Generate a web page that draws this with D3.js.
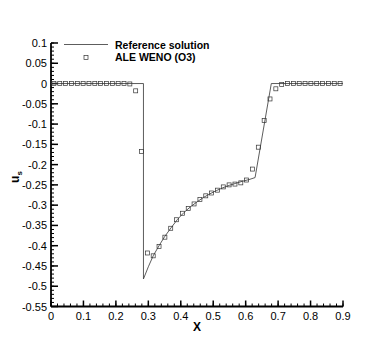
<!DOCTYPE html>
<html><head><meta charset="utf-8">
<script src="https://cdn.jsdelivr.net/npm/d3@7"></script>
<style>body{margin:0;background:#fff}svg{display:block}text{font-family:"Liberation Sans",Arial,sans-serif}</style>
</head><body>
<svg id="c" width="390" height="347"></svg>
<script>
const refX = [0, 0.285, 0.285, 0.30, 0.315, 0.333, 0.35, 0.37, 0.39, 0.41, 0.43, 0.45, 0.47, 0.49, 0.51, 0.53, 0.55, 0.57, 0.59, 0.61, 0.629, 0.679, 0.9];
const refY = [0, 0, -0.482, -0.452, -0.425, -0.400, -0.378, -0.356, -0.335, -0.318, -0.304, -0.292, -0.281, -0.272, -0.264, -0.257, -0.251, -0.246, -0.241, -0.237, -0.232, 0, 0];
const weno = [0,0,0,0,0,0,0,0,0,0,0,0,0,-0.001,-0.018,-0.168,-0.418,-0.425,-0.402,-0.379,-0.357,-0.336,-0.320,-0.308,-0.297,-0.286,-0.277,-0.270,-0.263,-0.255,-0.250,-0.248,-0.245,-0.238,-0.211,-0.157,-0.091,-0.038,-0.013,-0.002,0,0,0,0,0,0,0,0,0,0];
const wenoX = weno.map((_, i) => +(0.009 + 0.018 * i).toFixed(3));
const xTicks = [0,0.1,0.2,0.3,0.4,0.5,0.6,0.7,0.8,0.9];
const yTicks = [0.1,0.05,0,-0.05,-0.1,-0.15,-0.2,-0.25,-0.3,-0.35,-0.4,-0.45,-0.5,-0.55];
const legendLabels = ["Reference solution", "ALE WENO (O3)"];

const svg = d3.select("#c");
const x = d3.scaleLinear().domain([0, 0.9]).range([51, 343]);
const y = d3.scaleLinear().domain([-0.55, 0.1]).range([306.5, 43]);

const xMinor = d3.range(0, 0.9001, 0.02).map(v => +v.toFixed(3));
const yMinor = d3.range(-0.55, 0.1001, 0.01).map(v => +v.toFixed(3));
const g = svg.append("g");
g.selectAll(".xm").data(xMinor).join("line")
  .attr("x1", d => x(d)).attr("x2", d => x(d)).attr("y1", y(-0.55)).attr("y2", y(-0.55) - 3)
  .attr("stroke", "#000").attr("stroke-width", 1);
g.selectAll(".ym").data(yMinor).join("line")
  .attr("y1", d => y(d)).attr("y2", d => y(d)).attr("x1", x(0)).attr("x2", x(0) + 3)
  .attr("stroke", "#000").attr("stroke-width", 1);
g.selectAll(".xM").data(xTicks).join("line")
  .attr("x1", d => x(d)).attr("x2", d => x(d)).attr("y1", y(-0.55)).attr("y2", y(-0.55) - 6)
  .attr("stroke", "#000").attr("stroke-width", 1.5);
g.selectAll(".yM").data(yTicks).join("line")
  .attr("y1", d => y(d)).attr("y2", d => y(d)).attr("x1", x(0)).attr("x2", x(0) + 7)
  .attr("stroke", "#000").attr("stroke-width", 1.5);
g.append("line").attr("x1", x(0)).attr("x2", x(0.9)).attr("y1", y(-0.55)).attr("y2", y(-0.55)).attr("stroke", "#000").attr("stroke-width", 1.8);
g.append("line").attr("x1", x(0)).attr("x2", x(0)).attr("y1", y(-0.55)).attr("y2", y(0.1)).attr("stroke", "#000").attr("stroke-width", 1.8);

g.selectAll(".xl").data(xTicks).join("text")
  .attr("x", d => x(d)).attr("y", y(-0.55) + 13).attr("text-anchor", "middle")
  .attr("font-size", 11).text(d => d3.format("")(d));
g.selectAll(".yl").data(yTicks).join("text")
  .attr("x", x(0) - 4).attr("y", d => y(d) + 4).attr("text-anchor", "end")
  .attr("font-size", 11).text(d => String(d).replace("−", "-"));

svg.append("text").attr("x", 197).attr("y", 331).attr("text-anchor", "middle")
  .attr("font-size", 12).attr("font-weight", "bold").text("X");
const yt = svg.append("text").attr("transform", "translate(19,177) rotate(-90)")
  .attr("text-anchor", "middle").attr("font-size", 12).attr("font-weight", "bold");
yt.append("tspan").text("u");
yt.append("tspan").attr("font-size", 8).attr("dy", 3).text("s");

const pts = refX.map((v, i) => [v, refY[i]]);
svg.append("path").datum(pts)
  .attr("d", d3.line().x(d => x(d[0])).y(d => y(d[1])))
  .attr("fill", "none").attr("stroke", "#333").attr("stroke-width", 0.8);

svg.selectAll(".mk").data(wenoX.map((v, i) => [v, weno[i]])).join("rect")
  .attr("x", d => x(d[0]) - 2).attr("y", d => y(d[1]) - 2)
  .attr("width", 4).attr("height", 4)
  .attr("fill", "none").attr("stroke", "#333").attr("stroke-width", 0.7);

svg.append("line").attr("x1", 64).attr("x2", 108).attr("y1", 44.5).attr("y2", 44.5).attr("stroke", "#333").attr("stroke-width", 0.8);
svg.append("rect").attr("x", 84).attr("y", 55.5).attr("width", 4).attr("height", 4)
  .attr("fill", "none").attr("stroke", "#333").attr("stroke-width", 0.7);
svg.selectAll(".lg").data(legendLabels).join("text")
  .attr("x", 115).attr("y", (d, i) => 48.5 + i * 12.5)
  .attr("font-size", 10.5).attr("font-weight", "bold").text(d => d);
</script>
</body></html>
